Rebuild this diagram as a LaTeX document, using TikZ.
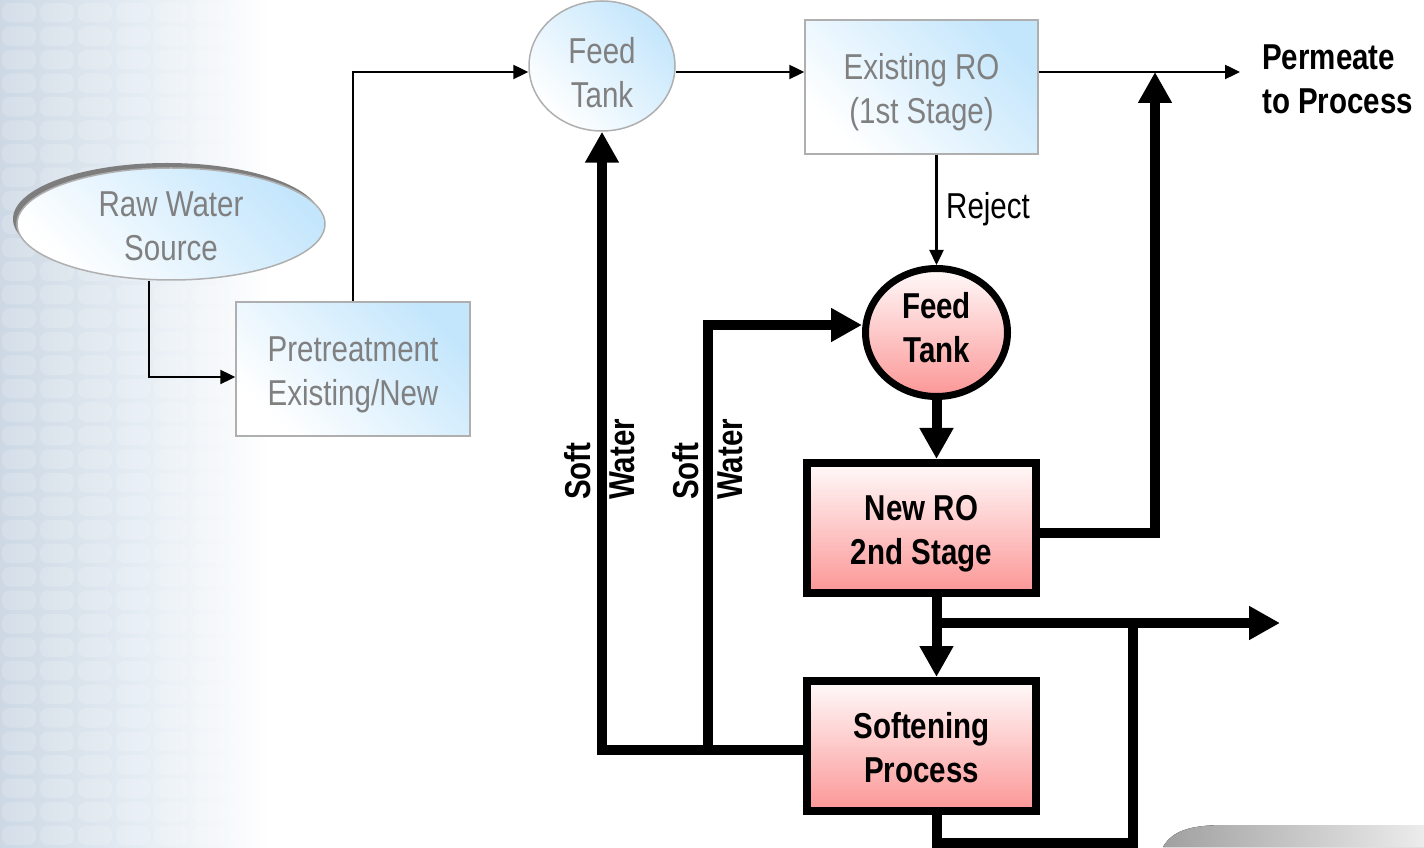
\documentclass[tikz,border=0pt]{standalone}
\usepackage{fontspec}
\setmainfont[FakeStretch=0.82]{Liberation Sans}
\usetikzlibrary{arrows.meta,shapes.geometric,calc}

\definecolor{paleblue}{RGB}{196,230,252}
\definecolor{txtgray}{RGB}{128,128,128}
\definecolor{rimgray}{RGB}{175,175,175}
\definecolor{shadowgray}{RGB}{125,125,125}
\definecolor{pinktop}{RGB}{255,250,250}
\definecolor{pinkbot}{RGB}{252,150,150}
\definecolor{bgleft}{RGB}{204,216,228}
\definecolor{bgmid}{RGB}{228,236,243}
\definecolor{tabdark}{RGB}{160,160,160}
\definecolor{tablight}{RGB}{236,236,236}

% move a line of node text up or down without changing its box
\newcommand\shiftln[2]{\raisebox{#1}[\height][\depth]{#2}}

\begin{document}
\begin{tikzpicture}[x=1pt,y=1pt,
  font=\fontsize{36}{44}\selectfont,
  oldunit/.style={draw=rimgray, line width=1.5pt, top color=paleblue,
    bottom color=white, shading angle=-45, text=txtgray, align=center,
    inner sep=0pt},
  newunit/.style={draw=black, line width=8pt, top color=pinktop,
    bottom color=pinkbot, font=\fontsize{36}{44}\selectfont\bfseries,
    align=center, inner sep=0pt},
  thinflow/.style={line width=2.4pt, -{Triangle[length=15pt,width=14pt]}},
  thickflow/.style={line width=10pt, -{Triangle[length=31pt,width=32pt]}},
  thickpipe/.style={line width=10pt},
  softlbl/.style={rotate=90, anchor=west, align=left, inner sep=0pt,
    font=\fontsize{36}{44}\selectfont\bfseries}]

\useasboundingbox (0,0) rectangle (1424,847);

% template backdrop: tiled panel on the left, tab at the lower right
\fill[left color=bgleft, right color=white, middle color=bgmid]
  (0,0) rectangle (270,847);
\foreach \i in {0,...,6}
  \foreach \j in {0,...,36}
    \fill[white, opacity=0.18, rounded corners=8pt]
      (\i*38+2, \j*23.5+2) rectangle ++(34,19.5);
\fill[left color=tabdark, right color=tablight]
  (1163,0) .. controls (1172,16) and (1190,22) .. (1225,22)
  -- (1424,22) -- (1424,0) -- cycle;

% existing plant
\fill[shadowgray] (167,628) ellipse [x radius=154, y radius=56];
\node[oldunit, ellipse, minimum width=308, minimum height=112]
  (raw) at (171,623) {\shiftln{-2pt}{Raw Water}\\\shiftln{-2pt}{Source}};
\node[oldunit, rectangle, minimum width=234, minimum height=134]
  (pre) at (353,478) {\shiftln{-6pt}{Pretreatment}\\\shiftln{-6pt}{Existing/New}};
\node[oldunit, ellipse, minimum width=146, minimum height=130]
  (ft1) at (602,781) {\shiftln{-7pt}{Feed}\\\shiftln{-7pt}{Tank}};
\node[oldunit, rectangle, minimum width=233, minimum height=134]
  (ro1) at (921.5,760) {\shiftln{-5pt}{Existing RO}\\\shiftln{-5pt}{(1st Stage)}};

% new second stage
\node[newunit, ellipse, line width=7pt, minimum width=142, minimum height=128]
  (ft2) at (936.5,514.5) {\shiftln{5pt}{Feed}\\\shiftln{5pt}{Tank}};
\node[newunit, rectangle, minimum width=229, minimum height=130]
  (nro) at (921.5,319) {\shiftln{-6pt}{New RO}\\\shiftln{-6pt}{2nd Stage}};
\node[newunit, rectangle, minimum width=229, minimum height=130]
  (sof) at (921.5,101) {\shiftln{-2pt}{Softening}\\\shiftln{-2pt}{Process}};

% text
\node[anchor=west, align=left, inner sep=0pt,
  font=\fontsize{36}{44}\selectfont\bfseries] (perm) at (1262,768)
  {Permeate\\to Process};
\node[anchor=west, inner sep=0pt] (rej) at (946,638) {Reject};
\node[softlbl] (sw1) at (600,347) {Soft\\Water};
\node[softlbl] (sw2) at (708,347) {Soft\\Water};

% junction points
\coordinate (pout) at (1240,775);
\coordinate (jr) at (1155,775);
\coordinate (bj) at (936.5,224);
\coordinate (bout) at (1280,224);
\coordinate (lb) at (1133,4);
\coordinate (sj) at (708,97);

% thin flows
\draw[thinflow] ($(raw.south)+(-22,0)$) |- ([yshift=-8pt]pre.west);
\draw[thinflow] (pre.north) |- (ft1.west |- pout);
\draw[thinflow] (ft1.east |- pout) -- (ro1.west |- pout);
\draw[thinflow] (ro1.east |- pout) -- (pout);
\draw[thinflow] (ro1.south -| ft2.north) -- (ft2.north);

% heavy flows
\draw[thickflow] (ft2.south) -- (ft2.south |- nro.north);
\draw[thickflow] ([yshift=-5pt]nro.east) -| (jr);
\draw[thickflow] (nro.south -| bj) -- (sof.north -| bj);
\draw[thickflow] (bj) -- (bout);
\draw[thickpipe] (sof.south -| bj) |- (lb) -- (lb |- bout);
\draw[thickflow] ([yshift=-4pt]sof.west) -| (ft1.south);
\draw[thickflow] (sj) |- ([yshift=7.5pt]ft2.west);

\end{tikzpicture}
\end{document}
